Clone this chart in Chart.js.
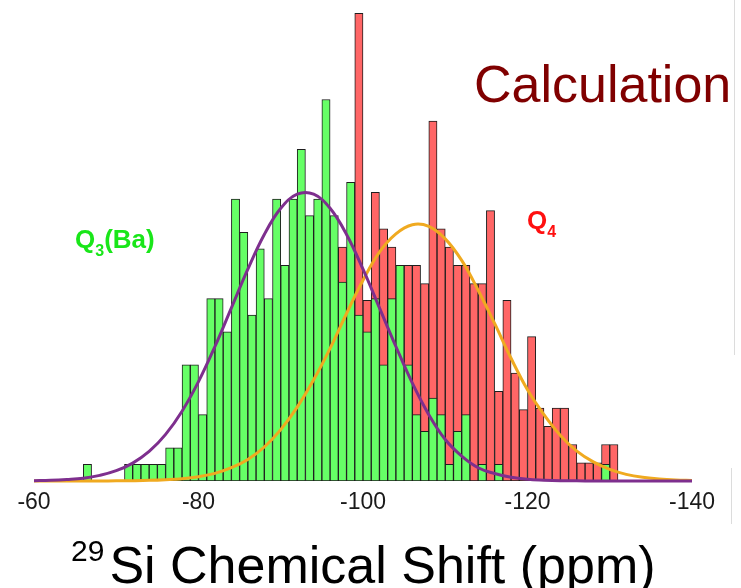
<!DOCTYPE html>
<html>
<head>
<meta charset="utf-8">
<script src="https://cdn.jsdelivr.net/npm/chart.js@4.4.1/dist/chart.umd.min.js"></script>
<style>
    html, body { margin: 0; padding: 0; background: #fff; }
    #wrap { position: relative; width: 741px; height: 588px; overflow: hidden; font-family: "Liberation Sans", Arial, sans-serif; }
    #chart { position: absolute; left: 0; top: 0; }
    .note { position: absolute; white-space: nowrap; line-height: 1; }
    .sub { position: relative; vertical-align: baseline; }
    #calc { left: 474px; top: 58px; font-size: 52px; color: #800000; }
    #q3 { left: 75px; top: 226px; font-size: 26px; font-weight: bold; color: #19e619; }
    #q4 { left: 527px; top: 207px; font-size: 26px; font-weight: bold; color: #ff1010; }
    #xtitle { left: 71px; top: 539px; font-size: 52px; color: #000; }
    .edge { position: absolute; width: 1px; background: #dcdcdc; }
</style>
</head>
<body>
<div id="wrap">
    <canvas id="chart" width="741" height="588"></canvas>
    <div class="note" id="calc">Calculation</div>
    <div class="note" id="q3">Q<span class="sub" style="font-size:16px; top:8px;">3</span>(Ba)</div>
    <div class="note" id="q4">Q<span class="sub" style="font-size:16px; top:8px;">4</span></div>
    <div class="note" id="xtitle"><span class="sub" style="font-size:30px; top:-22px; margin-right:5px;">29</span>Si Chemical Shift (ppm)</div>
    <div class="edge" style="left:734px; top:0; height:355px;"></div>
    <div class="edge" style="left:731px; top:468px; height:56px;"></div>
</div>
<script>
// --- Data ---
// histogram bins, 1 ppm wide, centres
const binCenters = [
    -60.5, -61.5, -62.5, -63.5, -64.5, -65.5, -66.5, -67.5, -68.5, -69.5,
    -70.5, -71.5, -72.5, -73.5, -74.5, -75.5, -76.5, -77.5, -78.5, -79.5,
    -80.5, -81.5, -82.5, -83.5, -84.5, -85.5, -86.5, -87.5, -88.5, -89.5,
    -90.5, -91.5, -92.5, -93.5, -94.5, -95.5, -96.5, -97.5, -98.5, -99.5,
    -100.5, -101.5, -102.5, -103.5, -104.5, -105.5, -106.5, -107.5, -108.5, -109.5,
    -110.5, -111.5, -112.5, -113.5, -114.5, -115.5, -116.5, -117.5, -118.5, -119.5,
    -120.5, -121.5, -122.5, -123.5, -124.5, -125.5, -126.5, -127.5, -128.5, -129.5,
    -130.5
];

// Q3(Ba) bar heights (green)
const q3Counts = [
    null, null, null, null, null, null, 1, null, null, null,
    null, 1, 1, 1, 1, 1, 2, 2, 7, 7,
    4, 11, 11, 9, 17, 15, 10, 14, 11, 17,
    13, 17, 20, 16, 17, 23, 16, 12, 18, 10,
    9, 11, 7, 11, 13, 7, 4, 3, 5, 4,
    1, 3, 4, null, 1, null, 1, null, null, null,
    null, null, null, null, null, null, null, null, null, 1,
    null
];

// Q4 bar heights (red), null where hidden behind the green bars
const q4Counts = [
    null, null, null, null, null, null, null, null, null, null,
    null, null, null, null, null, null, null, null, null, null,
    null, null, null, null, null, null, null, null, null, null,
    null, null, null, null, null, null, null, 14.1, null, 28.2,
    10.9, 17.4, 15.2, 14.1, null, 13.0, 13.0, 11.9, 21.7, 15.2,
    14.1, 13.0, 13.0, 11.9, 11.9, 16.3, 5.4, 10.9, 6.5, 4.3,
    8.7, 4.4, 3.3, 4.4, 4.4, 2.2, 1.1, 1.1, 1.1, 2.2,
    2.2
];

// fitted curves, sampled every 2 ppm
const curveX = [
    -60, -62, -64, -66, -68, -70, -72, -74, -76, -78,
    -80, -82, -84, -86, -88, -90, -92, -94, -96, -98,
    -100, -102, -104, -106, -108, -110, -112, -114, -116, -118,
    -120, -122, -124, -126, -128, -130, -132, -134, -136, -138,
    -140
];
const q3Fit = [
    0.02, 0.04, 0.09, 0.17, 0.34, 0.62, 1.08, 1.78, 2.81, 4.21,
    5.99, 8.11, 10.44, 12.77, 14.86, 16.44, 17.29, 17.29, 16.44, 14.86,
    12.77, 10.44, 8.11, 5.9, 4.0, 2.5, 1.5, 0.8, 0.45, 0.22,
    0.1, 0.05, 0.02, 0.01, 0, 0, 0, 0, 0, 0,
    0
];
const q4Fit = [
    0, 0, 0, 0, 0, 0.01, 0.02, 0.04, 0.08, 0.14,
    0.26, 0.46, 0.8, 1.3, 2.05, 3.1, 4.45, 6.1, 8.0, 10.1,
    12.1, 13.8, 14.9, 15.45, 15.35, 14.6, 13.3, 11.5, 9.5, 7.4,
    5.5, 4.0, 2.75, 1.8, 1.15, 0.7, 0.4, 0.22, 0.12, 0.06,
    0.03
];

const xTicks = [-60, -80, -100, -120, -140];

// --- Build ---
function barPoints(values) {
    const pts = [];
    values.forEach((v, i) => {
        if (v !== null) pts.push({ x: binCenters[i], y: v });
    });
    return pts;
}

function curvePoints(values) {
    return curveX.map((x, i) => ({ x: x, y: values[i] }));
}

const barStyle = {
    borderColor: '#1e1e1e',
    borderWidth: 1,
    borderSkipped: false,
    grouped: false,
    barPercentage: 1,
    categoryPercentage: 1
};

const lineStyle = {
    type: 'line',
    pointRadius: 0,
    borderWidth: 3,
    tension: 0.4,
    fill: false,
    clip: false,
    order: 0
};

new Chart(document.getElementById('chart'), {
    type: 'bar',
    data: {
        datasets: [
            Object.assign({ label: 'Q3(Ba) fit', data: curvePoints(q3Fit), borderColor: '#7e2f8e' }, lineStyle),
            Object.assign({ label: 'Q4 fit', data: curvePoints(q4Fit), borderColor: '#f0aa20' }, lineStyle),
            Object.assign({ label: 'Q3(Ba)', data: barPoints(q3Counts), backgroundColor: '#66ff66', order: 1 }, barStyle),
            Object.assign({ label: 'Q4', data: barPoints(q4Counts), backgroundColor: '#ff6666', order: 2 }, barStyle)
        ]
    },
    options: {
        responsive: false,
        animation: false,
        devicePixelRatio: 1,
        layout: { padding: { left: 34, right: 49, top: 0, bottom: 0 } },
        plugins: {
            legend: { display: false },
            tooltip: { enabled: false }
        },
        scales: {
            x: {
                type: 'linear',
                min: -140,
                max: -60,
                reverse: true,
                offset: false,
                grid: { display: false, drawTicks: false, offset: false },
                border: { display: false },
                afterBuildTicks: (scale) => {
                    scale.ticks = xTicks.map(v => ({ value: v }));
                },
                afterFit: (scale) => { scale.height = 107; },
                ticks: {
                    padding: 8,
                    color: '#1a1a1a',
                    font: { size: 23, family: '"Liberation Sans", Arial, sans-serif' }
                }
            },
            y: {
                min: 0,
                max: 29,
                display: false
            }
        }
    }
});
</script>
</body>
</html>
